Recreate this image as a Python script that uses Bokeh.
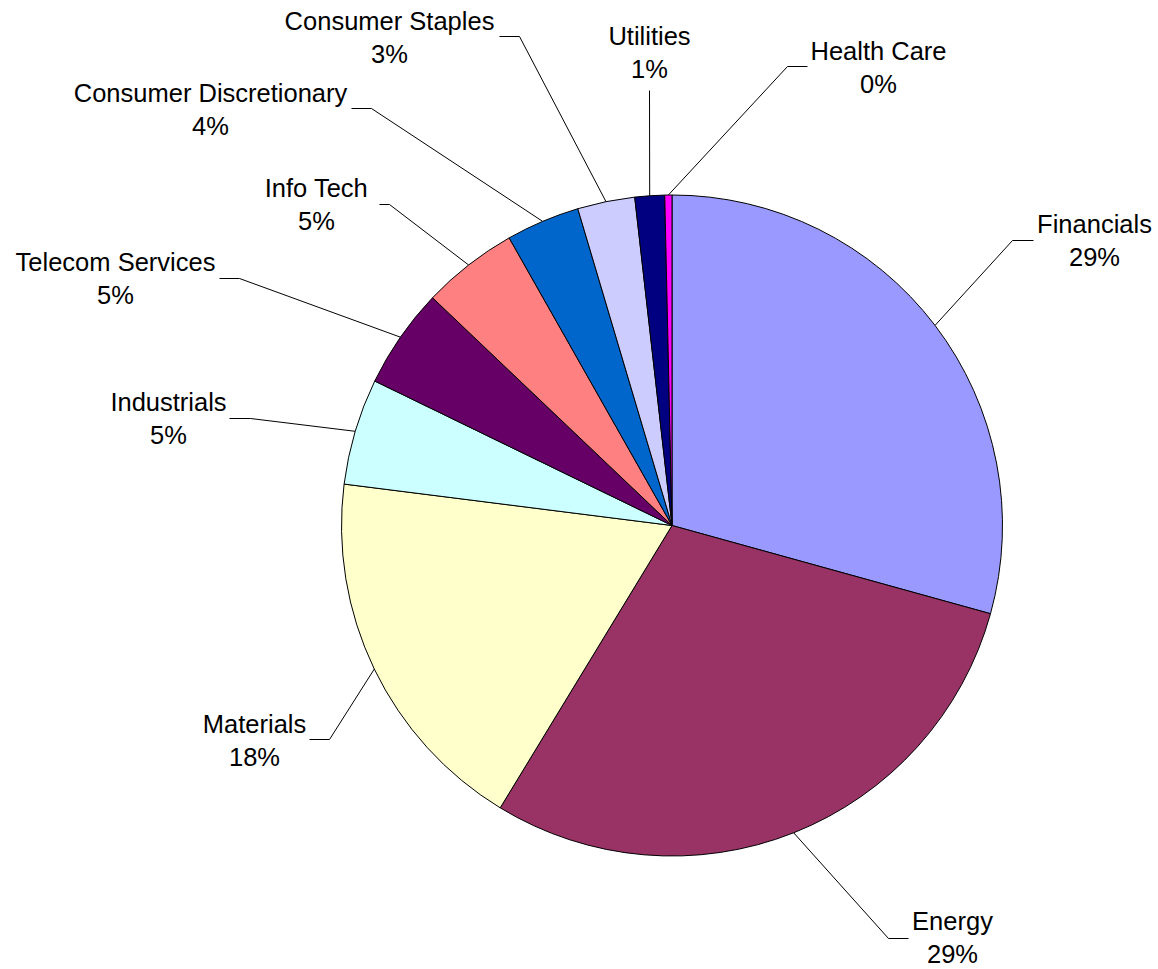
import math
from bokeh.plotting import figure
from bokeh.models import Range1d, ColumnDataSource
from bokeh.core.properties import value
from bokeh.embed import file_html
from bokeh.resources import INLINE

# ---- data ----
categories = ["Financials", "Energy", "Materials", "Industrials", "Telecom Services",
              "Info Tech", "Consumer Discretionary", "Consumer Staples", "Utilities", "Health Care"]
shares = [29.3, 29.4, 18.3, 5.2, 4.9, 4.7, 3.6, 2.8, 1.45, 0.35]
colors = ["#9999FF", "#993366", "#FFFFCC", "#CCFFFF", "#660066",
          "#FF8080", "#0066CC", "#CCCCFF", "#000080", "#FF00FF"]

# ---- layout (pixel coordinates of the picture) ----
W, H = 1158, 969
CX, CY, R = 671.5, 525.0, 330.5
TEXT_SHIFT = -9
label_cx = [1094, 952, 254, 168, 115, 316, 210, 389, 649, 878]
label_base = [232, 929, 732, 410, 270, 196, 101, 29, 44, 59]
elbow = [(1012, 240), (888, 938), (329, 739), (250, 418), (239, 278),
         (389, 204), (371, 108), (519, 36), (649, 90), (787, 66)]
tail = [(1033, 240), (908, 938), (309, 739), (229, 418), (219, 278),
        (379, 204), (351, 108), (499, 36), (649, 90), (807, 66)]

def fy(y):
    return H - y

total = sum(shares)
starts, ends, mids = [], [], []
cum = 0.0
for s in shares:
    a0 = cum / total * 2 * math.pi
    cum += s
    a1 = cum / total * 2 * math.pi
    starts.append(math.pi / 2 - a1)
    ends.append(math.pi / 2 - a0)
    mids.append((a0 + a1) / 2)

pct = ["%d%%" % round(s / total * 100) for s in shares]

p = figure(width=W, height=H, x_range=Range1d(0, W), y_range=Range1d(0, H),
           output_backend="svg", toolbar_location=None, min_border=0,
           x_axis_location=None, y_axis_location=None)
p.grid.visible = False
p.outline_line_color = None
p.background_fill_color = "white"
p.border_fill_color = "white"

src = ColumnDataSource(dict(start=starts, end=ends, color=colors))
p.wedge(x=CX, y=fy(CY), radius=R, start_angle="start", end_angle="end",
        direction="anticlock", fill_color="color", line_color="black", line_width=1,
        source=src)

# leader lines
xs, ys = [], []
for i, m in enumerate(mids):
    sx = CX + R * math.sin(m)
    sy = CY - R * math.cos(m)
    xs.append([sx, elbow[i][0], tail[i][0]])
    ys.append([fy(sy), fy(elbow[i][1]), fy(tail[i][1])])
p.multi_line(xs=xs, ys=ys, line_color="black", line_width=1)

font = value("Liberation Sans")
p.text(x=label_cx, y=[fy(b + TEXT_SHIFT) for b in label_base], text=categories,
       text_align="center", text_baseline="alphabetic", text_font=font,
       text_font_size="25.5px", text_color="black")
p.text(x=label_cx, y=[fy(b + 33 + TEXT_SHIFT) for b in label_base], text=pct,
       text_align="center", text_baseline="alphabetic", text_font=font,
       text_font_size="25.5px", text_color="black")

open("out.html", "w").write(file_html(p, INLINE))
